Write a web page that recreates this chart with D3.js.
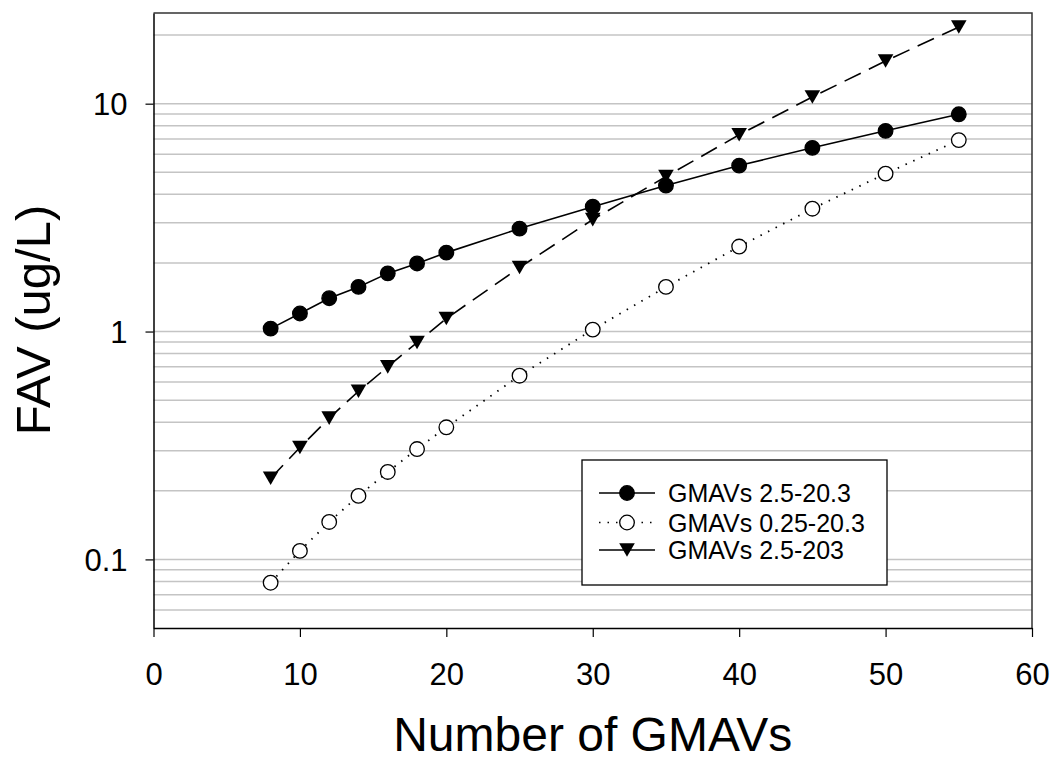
<!DOCTYPE html>
<html>
<head>
<meta charset="utf-8">
<script src="https://cdn.jsdelivr.net/npm/d3@7"></script>
<style>
  body { margin: 0; background: #fff; }
  text { font-family: Arial, 'Liberation Sans', sans-serif; fill: #000; }
</style>
</head>
<body>
<div id="chart"></div>
<script>
// number of GMAVs
const gmavCounts = [8, 10, 12, 14, 16, 18, 20, 25, 30, 35, 40, 45, 50, 55];
// FAV (ug/L) for each GMAV range
const fav25to203 = [1.03, 1.2, 1.4, 1.57, 1.8, 1.99, 2.22, 2.83, 3.53, 4.37, 5.35, 6.4, 7.6, 8.98];
const fav025to203 = [0.079, 0.109, 0.146, 0.19, 0.242, 0.305, 0.38, 0.64, 1.02, 1.57, 2.36, 3.46, 4.93, 6.92];
const fav25to2030 = [0.227, 0.31, 0.417, 0.547, 0.7, 0.895, 1.14, 1.91, 3.1, 4.79, 7.3, 10.7, 15.4, 21.7];
const seriesNames = ['GMAVs 2.5-20.3', 'GMAVs 0.25-20.3', 'GMAVs 2.5-203'];
const xTicks = [0, 10, 20, 30, 40, 50, 60];
const yTicks = [0.1, 1, 10];
const yGrid = [0.06, 0.07, 0.08, 0.09, 0.1, 0.2, 0.3, 0.4, 0.5, 0.6, 0.7, 0.8, 0.9, 1,
  2, 3, 4, 5, 6, 7, 8, 9, 10, 20];

const W = 1061, H = 762;
const plot = { left: 153.5, right: 1032, top: 13, bottom: 628 };

const svg = d3.select('#chart').append('svg')
  .attr('width', W).attr('height', H);

const x = d3.scaleLinear().domain([0, 60]).range([plot.left, plot.right]);
const y = d3.scaleLog().domain([0.05, 25]).range([plot.bottom, plot.top]);

// gridlines
svg.append('g').selectAll('line').data(yGrid).enter().append('line')
  .attr('x1', plot.left).attr('x2', plot.right)
  .attr('y1', d => y(d)).attr('y2', d => y(d))
  .attr('stroke', '#c4c4c4').attr('stroke-width', 1.5);

// frame top / right
svg.append('path')
  .attr('d', `M${plot.left},${plot.top}H${plot.right}V${plot.bottom}`)
  .attr('fill', 'none').attr('stroke', '#333').attr('stroke-width', 1.5);

// x axis
const xAxis = svg.append('g')
  .attr('transform', `translate(0,${plot.bottom})`)
  .call(d3.axisBottom(x).tickValues(xTicks).tickSize(9).tickSizeOuter(0).tickPadding(0));
xAxis.select('.domain').attr('stroke', '#000').attr('stroke-width', 1.5);
xAxis.selectAll('.tick line').attr('stroke', '#000').attr('stroke-width', 1.2);
xAxis.selectAll('.tick text')
  .attr('y', 57).attr('dy', null)
  .style('font-size', '31px').style('font-family', 'Arial, Liberation Sans, sans-serif');

// y axis
const yAxis = svg.append('g')
  .attr('transform', `translate(${plot.left},0)`)
  .call(d3.axisLeft(y).tickValues(yTicks).tickFormat(d3.format('')).tickSize(8).tickSizeOuter(0));
yAxis.select('.domain').attr('stroke', '#000').attr('stroke-width', 1.5);
yAxis.selectAll('.tick line').attr('stroke', '#000').attr('stroke-width', 1.2);
yAxis.selectAll('.tick text')
  .attr('x', -26).attr('dy', '0.36em')
  .style('font-size', '31px').style('font-family', 'Arial, Liberation Sans, sans-serif');

// axis titles
svg.append('text')
  .attr('x', (plot.left + plot.right) / 2).attr('y', 751)
  .attr('text-anchor', 'middle')
  .style('font-size', '48px')
  .text('Number of GMAVs');

svg.append('text')
  .attr('transform', 'translate(50,320) rotate(-90)')
  .attr('text-anchor', 'middle')
  .style('font-size', '49px')
  .text('FAV (ug/L)');

// series
const triPath = 'M-7.8,-6.8L7.8,-6.8L0,6.8Z';
const series = [
  { name: seriesNames[0], values: fav25to203, dash: null, marker: 'dot', fill: '#000' },
  { name: seriesNames[1], values: fav025to203, dash: '1.5,7', marker: 'dot', fill: '#fff' },
  { name: seriesNames[2], values: fav25to2030, dash: '18,9', marker: 'tri', fill: '#000' },
];

const line = d3.line()
  .x((d, i) => x(gmavCounts[i]))
  .y(d => y(d));

series.forEach(s => {
  svg.append('path')
    .datum(s.values)
    .attr('d', line)
    .attr('fill', 'none')
    .attr('stroke', '#000')
    .attr('stroke-width', s.dash === '1.5,7' ? 1.8 : 1.6)
    .attr('stroke-dasharray', s.dash);
});

const drawMarker = (g, s, cx, cy) => {
  if (s.marker === 'tri') {
    g.append('path').attr('d', triPath)
      .attr('transform', `translate(${cx},${cy})`)
      .attr('fill', s.fill);
  } else {
    g.append('circle').attr('cx', cx).attr('cy', cy).attr('r', 7.3)
      .attr('fill', s.fill).attr('stroke', '#000').attr('stroke-width', 1.3);
  }
};

series.forEach(s => {
  const g = svg.append('g');
  s.values.forEach((v, i) => drawMarker(g, s, x(gmavCounts[i]), y(v)));
});

// legend
const legend = svg.append('g');
legend.append('rect')
  .attr('x', 582).attr('y', 460).attr('width', 305).attr('height', 125)
  .attr('fill', '#fff').attr('stroke', '#000').attr('stroke-width', 1.3);

const rowY = [493, 522.5, 550];
series.forEach((s, i) => {
  legend.append('line')
    .attr('x1', 599).attr('x2', 655)
    .attr('y1', rowY[i]).attr('y2', rowY[i])
    .attr('stroke', '#000').attr('stroke-width', 1.6)
    .attr('stroke-dasharray', s.dash === '1.5,7' ? '1.5,7' : null);
  drawMarker(legend, s, 627, rowY[i]);
  legend.append('text')
    .attr('x', 668).attr('y', rowY[i]).attr('dy', '0.36em')
    .style('font-size', '25px')
    .text(s.name);
});
</script>
</body>
</html>
